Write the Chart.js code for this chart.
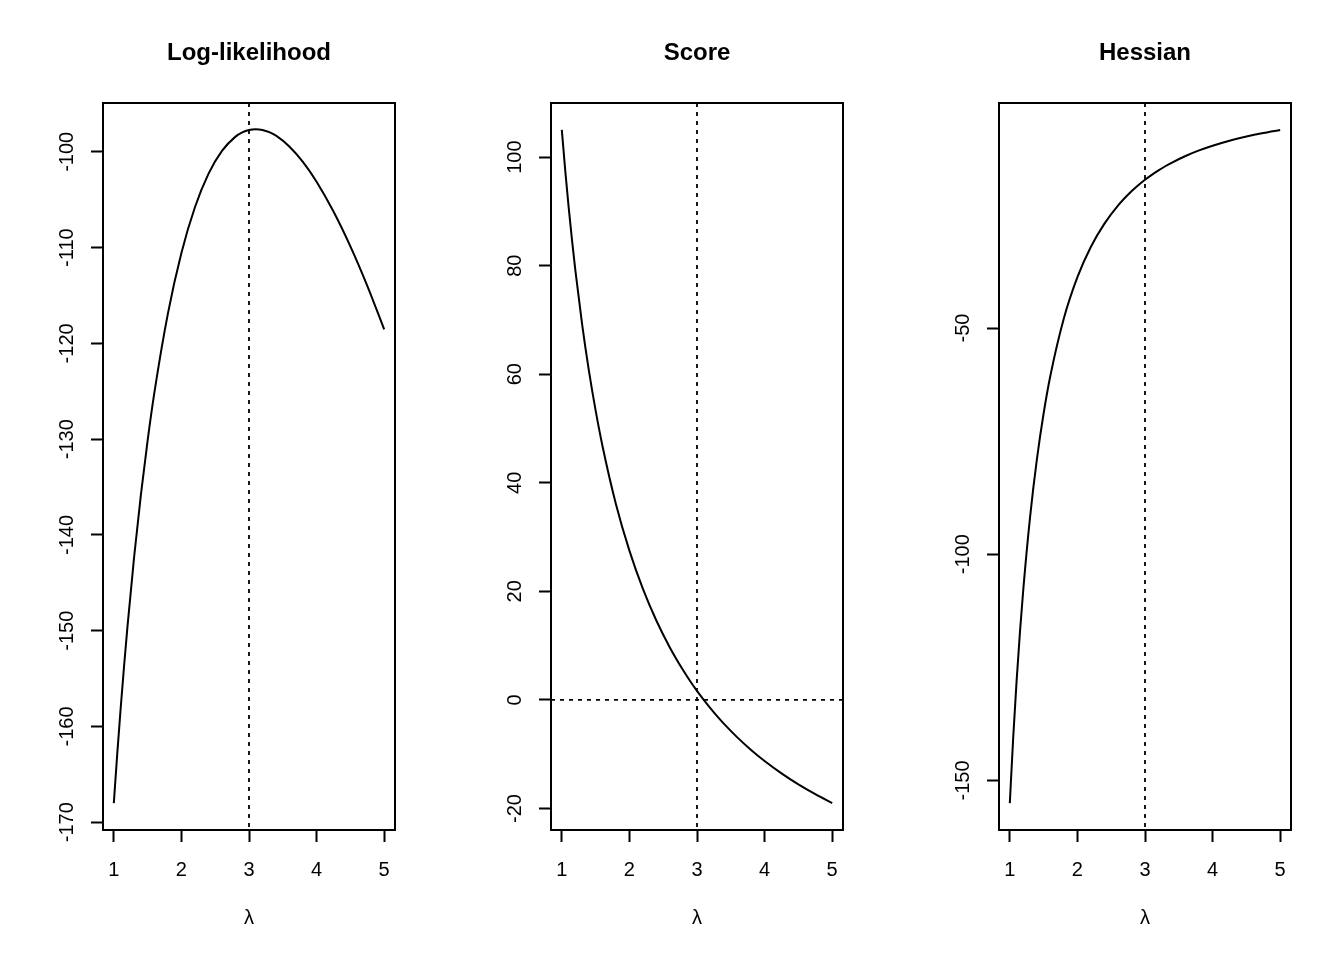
<!DOCTYPE html>
<html>
<head>
<meta charset="utf-8">
<script src="https://cdn.jsdelivr.net/npm/chart.js@4.4.1/dist/chart.umd.min.js"></script>
<style>
  html, body { margin: 0; padding: 0; background: #fff; }
  #wrap { position: relative; width: 1344px; height: 960px; }
  canvas { position: absolute; top: 0; }
</style>
</head>
<body>
<div id="wrap">
  <canvas id="llChart" width="448" height="960" style="left:0px"></canvas>
  <canvas id="scoreChart" width="448" height="960" style="left:448px"></canvas>
  <canvas id="hessChart" width="448" height="960" style="left:896px"></canvas>
</div>
<script>
// lambda grid the curves were read at
const lambdas = [1, 1.05, 1.1, 1.15, 1.2, 1.3, 1.4, 1.5, 1.6, 1.8, 2.0, 2.2, 2.4, 2.6, 2.8, 2.9, 3.0, 3.1, 3.2, 3.3, 3.4, 3.6, 3.8, 4.0, 4.25, 4.5, 4.75, 5.0];

const logLik = [-168.0, -162.94, -158.23, -153.84, -149.74, -142.33, -135.85, -130.15, -125.15, -116.89, -110.56, -105.79, -102.30, -99.90, -98.41, -97.97, -97.71, -97.63, -97.71, -97.94, -98.31, -99.46, -101.07, -103.12, -106.23, -109.87, -113.99, -118.54];
const score = [105.0, 97.62, 90.91, 84.78, 79.17, 69.23, 60.71, 53.33, 46.88, 36.11, 27.5, 20.45, 14.58, 9.62, 5.36, 3.45, 1.67, 0.0, -1.56, -3.03, -4.41, -6.94, -9.21, -11.25, -13.53, -15.56, -17.37, -19.0];
const hessian = [-155.0, -140.59, -128.10, -117.20, -107.64, -91.72, -79.08, -68.89, -60.55, -47.84, -38.75, -32.02, -26.91, -22.93, -19.77, -18.43, -17.22, -16.13, -15.14, -14.23, -13.41, -11.96, -10.73, -9.69, -8.58, -7.65, -6.87, -6.20];

const trueLambda = 3;
const xTicks = [1, 2, 3, 4, 5];
const llTicks = [-170, -160, -150, -140, -130, -120, -110, -100];
const scoreTicks = [-20, 0, 20, 40, 60, 80, 100];
const hessTicks = [-150, -100, -50];

const FONT = '"Liberation Sans", Arial, Helvetica, sans-serif';
Chart.defaults.font.family = FONT;
Chart.defaults.color = '#000';

// R-style frame, title, rotated y labels and dotted reference lines
const rPlot = {
    id: 'rPlot',
    afterDatasetsDraw(chart, args, opts) {
        const { ctx, chartArea: a, scales } = chart;
        ctx.save();
        ctx.strokeStyle = '#000';
        ctx.lineWidth = 1.8;
        ctx.setLineDash([4, 5]);
        const vx = scales.x.getPixelForValue(trueLambda);
        ctx.beginPath();
        ctx.moveTo(vx, a.top);
        ctx.lineTo(vx, a.bottom);
        ctx.stroke();
        if (opts.hline !== undefined) {
            const hy = scales.y.getPixelForValue(opts.hline);
            ctx.beginPath();
            ctx.moveTo(a.left, hy);
            ctx.lineTo(a.right, hy);
            ctx.stroke();
        }
        ctx.restore();
    },
    afterDraw(chart, args, opts) {
        const { ctx, chartArea: a, scales } = chart;
        ctx.save();
        ctx.strokeStyle = '#000';
        ctx.lineWidth = 2;
        ctx.strokeRect(a.left, a.top, a.right - a.left, a.bottom - a.top);

        ctx.fillStyle = '#000';
        ctx.font = 'bold 24px ' + FONT;
        ctx.textAlign = 'center';
        ctx.textBaseline = 'middle';
        ctx.fillText(opts.title, (a.left + a.right) / 2, 53);

        ctx.font = '20px ' + FONT;
        ctx.textBaseline = 'alphabetic';
        scales.y.ticks.forEach(t => {
            const py = scales.y.getPixelForValue(t.value);
            ctx.save();
            ctx.translate(a.left - 30, py);
            ctx.rotate(-Math.PI / 2);
            ctx.fillText(String(t.value), 0, 0);
            ctx.restore();
        });
        ctx.restore();
    }
};

function makePanel(id, title, values, yMin, yMax, yTicks, hline) {
    const ctx = document.getElementById(id).getContext('2d');
    return new Chart(ctx, {
        type: 'line',
        data: {
            datasets: [{
                data: lambdas.map((l, i) => ({ x: l, y: values[i] })),
                borderColor: '#000',
                borderWidth: 2,
                pointRadius: 0,
                fill: false,
                cubicInterpolationMode: 'monotone'
            }]
        },
        options: {
            responsive: false,
            animation: false,
            devicePixelRatio: 1,
            layout: { padding: { top: 103, right: 53, left: 0, bottom: 0 } },
            plugins: {
                legend: { display: false },
                tooltip: { enabled: false },
                rPlot: { title, hline }
            },
            scales: {
                x: {
                    type: 'linear',
                    min: 0.84,
                    max: 5.16,
                    afterBuildTicks: s => { s.ticks = xTicks.map(v => ({ value: v })); },
                    afterFit: s => { s.height = 130; },
                    grid: { drawOnChartArea: false, drawTicks: true, tickLength: 12, tickWidth: 2, tickColor: '#000', color: '#000' },
                    border: { display: false },
                    ticks: { font: { size: 20 }, padding: 16, color: '#000', autoSkip: false, maxRotation: 0 },
                    title: { display: true, text: 'λ', font: { size: 20 }, padding: { top: 0, bottom: 30 }, color: '#000' }
                },
                y: {
                    type: 'linear',
                    min: yMin,
                    max: yMax,
                    afterBuildTicks: s => { s.ticks = yTicks.map(v => ({ value: v })); },
                    afterFit: s => { s.width = 103; },
                    grid: { drawOnChartArea: false, drawTicks: true, tickLength: 12, tickWidth: 2, tickColor: '#000', color: '#000' },
                    border: { display: false },
                    ticks: { display: false }
                }
            }
        },
        plugins: [rPlot]
    });
}

makePanel('llChart', 'Log-likelihood', logLik, -170.81, -94.90, llTicks);
makePanel('scoreChart', 'Score', score, -23.96, 109.96, scoreTicks, 0);
makePanel('hessChart', 'Hessian', hessian, -160.95, -0.25, hessTicks);
</script>
</body>
</html>
